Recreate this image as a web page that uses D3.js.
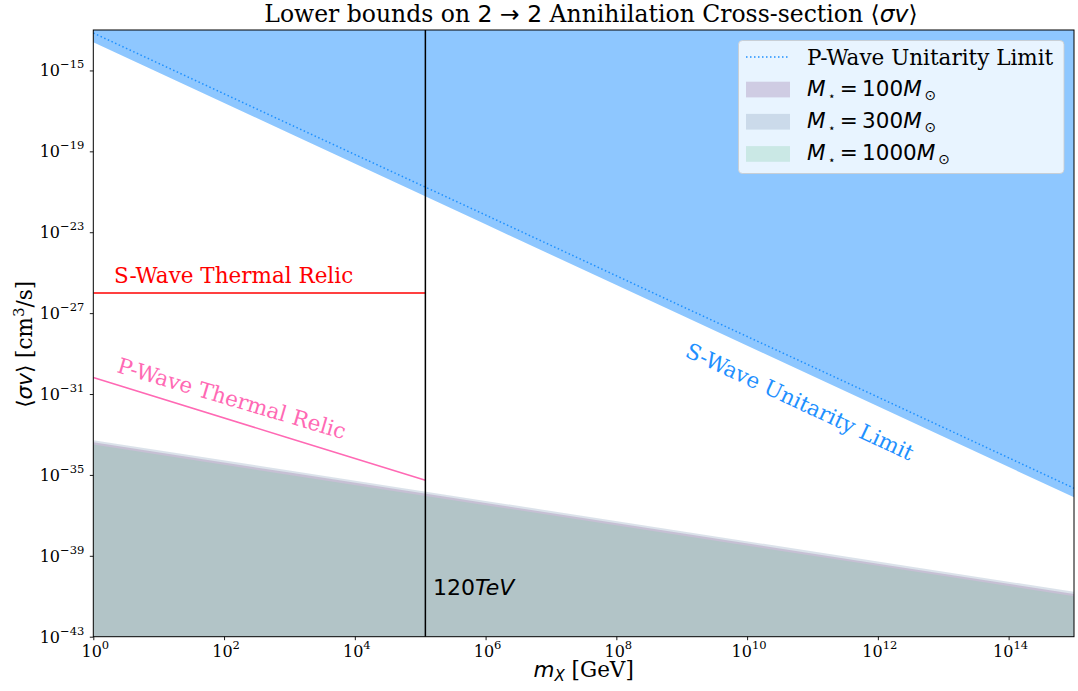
<!DOCTYPE html>
<html><head><meta charset="utf-8">
<script src="https://cdn.jsdelivr.net/npm/d3@7"></script>
<style>body{margin:0;background:#fff}</style>
</head><body><svg id="c" width="1078" height="691"></svg>
<script>
// ---------- data ----------
const massGrid = [1, 1e3, 1e6, 1e9, 1e12, 1e15];
const sWaveUnitarity = [2.45e-14, 7.8e-19, 2.45e-23, 7.8e-28, 2.45e-32, 7.8e-37];
const pWaveUnitarity = [7.1e-14, 2.2e-18, 7.1e-23, 2.2e-27, 7.1e-32, 2.2e-36];
const bound300  = [5.2e-34, 1.66e-35, 5.2e-37, 1.66e-38, 5.2e-40, 1.66e-41];
const bound100  = [4.1e-34, 1.3e-35, 4.1e-37, 1.3e-38, 4.1e-40, 1.3e-41];
const bound1000 = [3.2e-34, 1.0e-35, 3.2e-37, 1.0e-38, 3.2e-40, 1.0e-41];
const relicMass = [1, 1e3, 1.2e5];
const sWaveRelic = [1e-26, 1e-26, 1e-26];
const pWaveRelic = [6.5e-31, 6.5e-34, 5.4e-36];
const cutoffMass = 1.2e5;
const xDomain = [1, 1e15];
const yDomain = [1e-43, 1e-13];
const xTickExp = [0, 2, 4, 6, 8, 10, 12, 14];
const yTickExp = [-43, -39, -35, -31, -27, -23, -19, -15];
const bandLabels = ["100", "300", "1000"];

// ---------- layout ----------
const L = 93.3, R = 1074, T = 30, B = 636.7;
const svg = d3.select("#c");
const x = d3.scaleLog().domain(xDomain).range([L, R]);
const y = d3.scaleLog().domain(yDomain).range([B, T]);
const serif = "DejaVu Serif, serif";
const sans = "DejaVu Sans, sans-serif";
const FS = 21.5;

svg.append("defs").append("clipPath").attr("id", "clip")
  .append("rect").attr("x", L).attr("y", T).attr("width", R - L).attr("height", B - T);
const plot = svg.append("g").attr("clip-path", "url(#clip)");

const pts = (xs, ys) => xs.map((m, i) => [m, ys[i]]);

// S-wave unitarity excluded region
plot.append("path")
  .datum(pts(massGrid, sWaveUnitarity))
  .attr("d", d3.area().x(d => x(d[0])).y0(y(yDomain[1])).y1(d => y(d[1])))
  .attr("fill", "rgba(30,144,255,0.5)");

// bands
const bandStyles = [
  {data: bound300, color: "rgb(135,160,185)"},
  {data: bound100, color: "rgb(148,112,162)"},
  {data: bound1000, color: "rgb(133,204,168)"}
];
bandStyles.forEach(b => {
  plot.append("path")
    .datum(pts(massGrid, b.data))
    .attr("d", d3.area().x(d => x(d[0])).y0(y(yDomain[0])).y1(d => y(d[1])))
    .attr("fill", b.color).attr("fill-opacity", 0.3);
});

// P-wave unitarity dotted
plot.append("path")
  .datum(pts(massGrid, pWaveUnitarity))
  .attr("d", d3.line().x(d => x(d[0])).y(d => y(d[1])))
  .attr("fill", "none").attr("stroke", "#1e90ff").attr("stroke-width", 1.5)
  .attr("stroke-dasharray", "1.5,2.5");

// relic lines
plot.append("path")
  .datum(pts(relicMass, sWaveRelic))
  .attr("d", d3.line().x(d => x(d[0])).y(d => y(d[1])))
  .attr("fill", "none").attr("stroke", "red").attr("stroke-width", 1.5);
plot.append("path")
  .datum(pts(relicMass, pWaveRelic))
  .attr("d", d3.line().x(d => x(d[0])).y(d => y(d[1])))
  .attr("fill", "none").attr("stroke", "#ff69b4").attr("stroke-width", 1.5);

// cutoff vertical line
plot.append("line")
  .attr("x1", x(cutoffMass)).attr("x2", x(cutoffMass))
  .attr("y1", T).attr("y2", B)
  .attr("stroke", "black").attr("stroke-width", 1.5);

// annotations
svg.append("text").attr("x", 114).attr("y", 282.5)
  .attr("font-family", serif).attr("font-size", FS).attr("fill", "red")
  .text("S-Wave Thermal Relic");
svg.append("text").attr("transform", "translate(116,372) rotate(16.5)")
  .attr("font-family", serif).attr("font-size", FS).attr("fill", "#ff69b4")
  .text("P-Wave Thermal Relic");
svg.append("text").attr("transform", "translate(684,356) rotate(25)")
  .attr("font-family", serif).attr("font-size", FS).attr("fill", "#1e90ff")
  .text("S-Wave Unitarity Limit");
const tev = svg.append("text").attr("x", 433).attr("y", 595)
  .attr("font-family", sans).attr("font-size", 22).attr("fill", "black");
tev.append("tspan").text("120");
tev.append("tspan").attr("font-style", "italic").text("TeV");

// axes
const xAxis = svg.append("g").attr("transform", `translate(0,${B})`)
  .call(d3.axisBottom(x).tickValues(xTickExp.map(e => Math.pow(10, e))).tickSize(3.5).tickFormat(""));
const yAxis = svg.append("g").attr("transform", `translate(${L},0)`)
  .call(d3.axisLeft(y).tickValues(yTickExp.map(e => Math.pow(10, e))).tickSize(3.5).tickFormat(""));
[xAxis, yAxis].forEach(a => { a.select(".domain").remove(); a.selectAll("line").attr("stroke", "black").attr("stroke-width", 0.9); });

function powLabel(t, exp) {
  t.append("tspan").text("10");
  t.append("tspan").attr("dy", -8).attr("font-size", 11.5).text(String(exp).replace("-", "\u2212"));
}
xTickExp.forEach(e => {
  const t = svg.append("text").attr("x", x(Math.pow(10, e)) + 2).attr("y", B + 20)
    .attr("text-anchor", "middle").attr("font-family", serif).attr("font-size", 16).attr("fill", "black");
  powLabel(t, e);
});
yTickExp.forEach(e => {
  const t = svg.append("text").attr("x", L - 9).attr("y", y(Math.pow(10, e)) + 6)
    .attr("text-anchor", "end").attr("font-family", serif).attr("font-size", 16).attr("fill", "black");
  powLabel(t, e);
});

// spines
svg.append("rect").attr("x", L).attr("y", T).attr("width", R - L).attr("height", B - T)
  .attr("fill", "none").attr("stroke", "black").attr("stroke-width", 1);

// title
const tt = svg.append("text").attr("x", 591).attr("y", 22).attr("text-anchor", "middle")
  .attr("font-size", 23.5).attr("fill", "black");
tt.append("tspan").attr("font-family", serif).text("Lower bounds on ");
tt.append("tspan").attr("font-family", sans).text("2 \u2192 2");
tt.append("tspan").attr("font-family", serif).text(" Annihilation Cross-section ");
tt.append("tspan").attr("font-family", sans).text("\u27E8");
tt.append("tspan").attr("font-family", sans).attr("font-style", "italic").text("\u03C3v");
tt.append("tspan").attr("font-family", sans).text("\u27E9");

// axis labels
const xl = svg.append("text").attr("x", (L + R) / 2).attr("y", 677).attr("text-anchor", "middle")
  .attr("font-size", FS).attr("fill", "black");
xl.append("tspan").attr("font-family", sans).attr("font-style", "italic").text("m");
xl.append("tspan").attr("font-family", sans).attr("font-style", "italic").attr("font-size", 15).attr("dy", 3.5).text("X");
xl.append("tspan").attr("font-family", serif).attr("dy", -3.5).text(" [GeV]");

const yl = svg.append("text").attr("transform", `translate(32,${(T + B) / 2 + 11}) rotate(-90)`)
  .attr("text-anchor", "middle").attr("font-size", FS).attr("fill", "black");
yl.append("tspan").attr("font-family", sans).text("\u27E8");
yl.append("tspan").attr("font-family", sans).attr("font-style", "italic").text("\u03C3v");
yl.append("tspan").attr("font-family", sans).text("\u27E9");
yl.append("tspan").attr("font-family", serif).text(" [cm");
yl.append("tspan").attr("font-family", serif).attr("font-size", 15).attr("dy", -8).text("3");
yl.append("tspan").attr("font-family", serif).attr("dy", 8).text("/s]");

// legend
const lg = svg.append("g");
lg.append("rect").attr("x", 738.5).attr("y", 40.5).attr("width", 325.5).attr("height", 133)
  .attr("rx", 4).attr("fill", "rgba(255,255,255,0.8)").attr("stroke", "rgba(204,204,204,0.8)");
lg.append("line").attr("x1", 746).attr("x2", 790).attr("y1", 57).attr("y2", 57)
  .attr("stroke", "#1e90ff").attr("stroke-width", 1.5).attr("stroke-dasharray", "1.5,2.5");
lg.append("text").attr("x", 807).attr("y", 64.5).attr("font-family", serif).attr("font-size", FS)
  .attr("fill", "black").text("P-Wave Unitarity Limit");
const legOrder = [bandStyles[1], bandStyles[0], bandStyles[2]];
bandLabels.forEach((lab, i) => {
  const yy = 81.7 + i * 32.2;
  lg.append("rect").attr("x", 746).attr("y", yy).attr("width", 44).attr("height", 15.7)
    .attr("fill", legOrder[i].color).attr("fill-opacity", 0.3);
  const t = lg.append("text").attr("x", 807).attr("y", yy + 14).attr("font-family", sans)
    .attr("font-size", FS).attr("fill", "black");
  t.append("tspan").attr("font-style", "italic").text("M");
  t.append("tspan").attr("font-size", 12).attr("dy", 4).text("\u2009\u22C6");
  t.append("tspan").attr("dy", -4).text("\u2009=\u2009" + lab);
  t.append("tspan").attr("font-style", "italic").text("M");
  t.append("tspan").attr("font-size", 14).attr("dy", 4).text("\u2009\u2299");
});
</script></body></html>
